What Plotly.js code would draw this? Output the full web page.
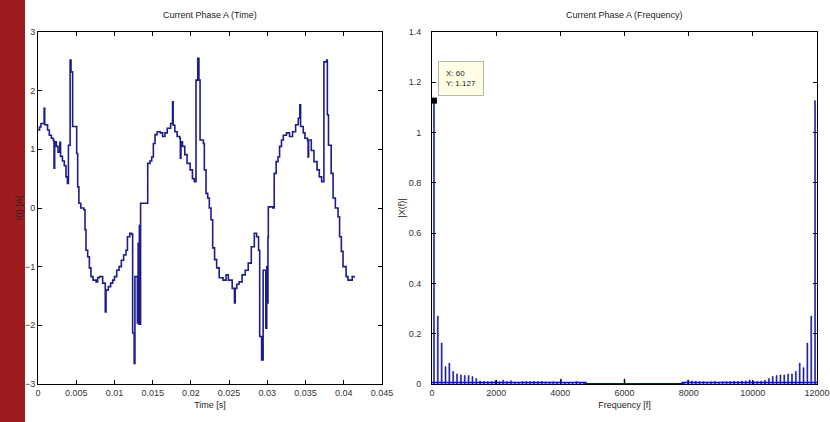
<!DOCTYPE html>
<html>
<head>
<meta charset="utf-8">
<script src="https://cdn.plot.ly/plotly-3.0.1.min.js"></script>
<style>
html,body{margin:0;padding:0;background:#fff;}
#chart{width:830px;height:422px;}
</style>
</head>
<body>
<div id="chart"></div>
<script>
// ---- Time-domain signal: current phase A ----
const timeS = [
0.00000,0.00020,0.00039,0.00080,0.00088,0.00125,0.00148,0.00175,0.00200,0.00210,
0.00218,0.00240,0.00262,0.00285,0.00295,0.00320,0.00344,0.00366,0.00385,0.00398,
0.00420,0.00432,0.00453,0.00506,0.00519,0.00535,0.00560,0.00600,0.00615,0.00628,
0.00650,0.00672,0.00693,0.00720,0.00760,0.00781,0.00802,0.00846,0.00880,0.00890,
0.00920,0.00950,0.00977,0.01000,0.01030,0.01060,0.01090,0.01120,0.01151,0.01170,
0.01200,0.01225,0.01238,0.01258,0.01268,0.01290,0.01300,0.01310,0.01318,0.01326,
0.01334,0.01342,0.01413,0.01435,0.01465,0.01487,0.01509,0.01531,0.01560,0.01600,
0.01630,0.01661,0.01690,0.01735,0.01760,0.01768,0.01790,0.01820,0.01855,0.01862,
0.01870,0.01890,0.01920,0.01950,0.01990,0.02020,0.02045,0.02067,0.02090,0.02105,
0.02120,0.02163,0.02176,0.02198,0.02220,0.02241,0.02263,0.02285,0.02310,0.02337,
0.02370,0.02420,0.02460,0.02490,0.02540,0.02570,0.02580,0.02600,0.02630,0.02670,
0.02710,0.02750,0.02790,0.02830,0.02860,0.02885,0.02900,0.02925,0.02945,0.02970,
0.02980,0.02992,0.03000,0.03008,0.03013,0.03070,0.03090,0.03115,0.03140,0.03160,
0.03185,0.03209,0.03250,0.03290,0.03330,0.03370,0.03405,0.03425,0.03435,0.03470,
0.03492,0.03525,0.03533,0.03540,0.03575,0.03610,0.03650,0.03680,0.03710,0.03740,
0.03775,0.03785,0.03800,0.03835,0.03860,0.03890,0.03925,0.03945,0.03968,0.03990,
0.04030,0.04055,0.04110,0.04147
];
const currentA = [
1.33,1.38,1.44,1.70,1.42,1.33,1.24,1.19,1.15,0.68,
1.13,1.05,0.95,1.12,0.88,0.80,0.72,0.53,0.42,1.07,
2.52,2.32,1.39,0.93,0.36,0.08,0.00,-0.03,-0.37,-0.72,
-0.83,-1.02,-1.17,-1.23,-1.26,-1.19,-1.17,-1.28,-1.77,-1.40,
-1.34,-1.28,-1.23,-1.17,-1.06,-1.00,-0.89,-0.80,-0.72,-0.49,
-0.43,-0.45,-2.13,-2.65,-1.17,-1.17,-1.96,-0.60,-1.98,-0.30,
-1.98,0.08,0.08,0.76,0.80,0.87,1.10,1.25,1.30,1.28,
1.22,1.28,1.36,1.44,1.81,1.41,1.30,1.22,1.19,0.85,
1.13,1.05,0.91,0.76,0.65,0.50,0.45,2.18,2.55,2.18,
1.16,1.10,0.65,0.25,0.17,0.00,-0.20,-0.68,-0.88,-1.02,
-1.19,-1.23,-1.14,-1.23,-1.37,-1.62,-1.37,-1.30,-1.26,-1.14,
-1.06,-0.94,-0.66,-0.43,-0.49,-0.72,-2.19,-2.59,-1.06,-1.06,
-2.05,-1.00,-1.62,-0.50,0.02,0.00,0.59,0.79,0.87,1.05,
1.16,1.24,1.28,1.22,1.30,1.42,1.53,1.76,1.39,1.28,
1.19,1.16,0.87,1.16,0.98,0.79,0.65,0.53,0.45,2.49,
2.52,1.59,1.07,0.59,0.17,0.00,-0.15,-0.49,-0.74,-1.00,
-1.17,-1.23,-1.17,-1.17
];

// ---- Frequency-domain magnitude |X(f)| ----
const freqHz = [
60,180,300,420,540,660,780,900,1020,1140,1260,1380,1500,1620,1740,1860,1980,2100,2220,2340,
2460,2580,2700,2820,2940,3060,3180,3300,3420,3540,3660,3780,3900,4020,4140,4260,4380,4500,4620,4740,
6000,
7860,7980,8100,8220,8340,8460,8580,8700,8820,8940,9060,9180,9300,9420,9540,9660,9780,9900,10020,
10140,10260,10380,10500,10620,10740,10860,10980,11100,11220,11340,11460,11580,11700,11820,11940
];
const magX = [
1.127,0.27,0.163,0.069,0.083,0.05,0.04,0.036,0.034,0.034,0.03,0.022,0.012,0.01,0.009,0.01,0.014,0.009,0.015,0.01,
0.013,0.008,0.007,0.01,0.01,0.009,0.01,0.009,0.01,0.009,0.008,0.009,0.008,0.02,0.006,0.005,0.005,0.01,0.004,0.004,
0.02,
0.008,0.016,0.012,0.01,0.009,0.01,0.008,0.009,0.01,0.008,0.009,0.01,0.01,0.011,0.01,0.012,0.012,0.016,0.012,
0.01,0.012,0.015,0.022,0.03,0.034,0.036,0.036,0.04,0.04,0.05,0.083,0.065,0.163,0.27,1.127
];
// noise floor of the spectrum
const floorHz  = [0, 4800, 7800, 12000];
const floorMag = [0.006, 0.001, 0.006, 0.006];

// data tip
const tipX = [60];
const tipY = [1.127];

// tick labels
const timeTicks = [0,0.005,0.01,0.015,0.02,0.025,0.03,0.035,0.04,0.045];
const timeTickText = ['0','0.005','0.01','0.015','0.02','0.025','0.03','0.035','0.04','0.045'];
const curTicks = [-3,-2,-1,0,1,2,3];
const freqTicks = [0,2000,4000,6000,8000,10000,12000];
const freqTickText = ['0','2000','4000','6000','8000','10000','12000'];
const magTicks = [0,0.2,0.4,0.6,0.8,1,1.2,1.4];
const magTickText = ['0','0.2','0.4','0.6','0.8','1','1.2','1.4'];

const FONT = 'Liberation Sans, Arial, sans-serif';
const tickFont = {family: FONT, size: 9, color: '#333'};
const titleFont = {family: FONT, size: 9, color: '#222'};

const traces = [
  {type:'scatter', mode:'lines', x:timeS, y:currentA, xaxis:'x', yaxis:'y',
   line:{color:'#1c1c8a', width:1.6, shape:'hv'}, hoverinfo:'skip'},
  {type:'scatter', mode:'lines', x:floorHz, y:floorMag, xaxis:'x2', yaxis:'y2',
   line:{color:'#0000ff', width:1.5, shape:'hv'}, hoverinfo:'skip'},
  {type:'bar', x:freqHz, y:magX, xaxis:'x2', yaxis:'y2', width:30,
   marker:{color:'#1010d0', line:{color:'#1a1a90', width:0.6}}, hoverinfo:'skip'},
  {type:'scatter', mode:'markers', x:tipX, y:tipY, xaxis:'x2', yaxis:'y2',
   marker:{symbol:'square', size:6, color:'#000'}, hoverinfo:'skip'}
];

const axBase = {
  showgrid:false, zeroline:false, showline:true, linecolor:'#000', linewidth:1,
  mirror:'ticks', ticks:'inside', ticklen:4, tickcolor:'#000', tickfont:tickFont,
  fixedrange:true
};

const layout = {
  width:830, height:422,
  margin:{l:38, r:13, t:32, b:38},
  paper_bgcolor:'#fff', plot_bgcolor:'#fff',
  showlegend:false, bargap:0,
  xaxis: Object.assign({}, axBase, {domain:[0,0.4416], range:[0,0.045],
     tickvals:timeTicks, ticktext:timeTickText, anchor:'y',
     title:{text:'Time [s]', font:titleFont, standoff:4}}),
  yaxis: Object.assign({}, axBase, {domain:[0,1], range:[-3,3], tickvals:curTicks, anchor:'x',
     title:{text:'I(t) [A]', font:titleFont, standoff:0}}),
  xaxis2: Object.assign({}, axBase, {domain:[0.5058,1], range:[0,12000],
     tickvals:freqTicks, ticktext:freqTickText, anchor:'y2',
     title:{text:'Frequency [f]', font:titleFont, standoff:4}}),
  yaxis2: Object.assign({}, axBase, {domain:[0,1], range:[0,1.4], tickvals:magTicks,
     ticktext:magTickText, anchor:'x2', ticklabelstandoff:8,
     title:{text:'|X(f)|', font:titleFont, standoff:1}}),
  shapes:[
    {type:'rect', xref:'paper', yref:'paper', x0:-38/779, x1:(25-38)/779, y0:-38/352, y1:1+32/352,
     fillcolor:'#9f1c1e', line:{width:0}, layer:'below'}
  ],
  annotations:[
    {text:'Current Phase A (Time)', xref:'paper', yref:'paper', x:0.2208, y:1+17/352,
     xanchor:'center', yanchor:'middle', showarrow:false, font:titleFont},
    {text:'Current Phase A (Frequency)', xref:'paper', yref:'paper', x:0.7529, y:1+17/352,
     xanchor:'center', yanchor:'middle', showarrow:false, font:titleFont},
    {text:'X: 60<br>Y: 1.127', xref:'x2', yref:'y2', x:tipX[0], y:tipY[0],
     xanchor:'left', yanchor:'bottom', xshift:4, yshift:5, showarrow:false,
     align:'left', bgcolor:'#ffffe6', bordercolor:'#b8b8a8', borderwidth:1, borderpad:7,
     font:{family:FONT, size:8, color:'#222'}}
  ]
};

Plotly.newPlot('chart', traces, layout, {staticPlot:true, displayModeBar:false});
</script>
</body>
</html>
